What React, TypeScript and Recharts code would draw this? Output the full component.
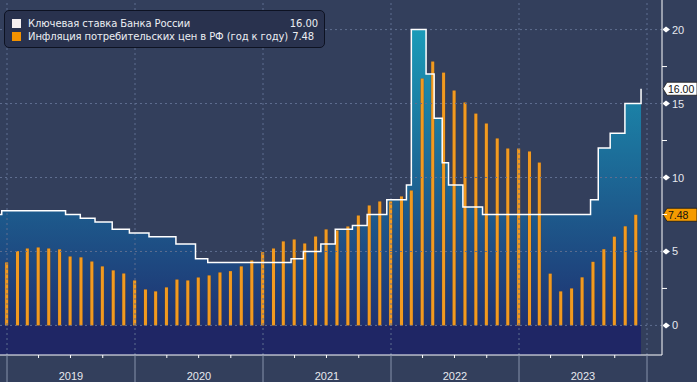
import {
  ComposedChart,
  Area,
  Line,
  Bar,
  XAxis,
  YAxis,
  ReferenceLine,
  ReferenceDot,
} from 'recharts'

// key rate: change dates and the level set on each
const rateDates = [
  '2018-12-12', '2018-12-17', '2019-06-17', '2019-07-29', '2019-09-09',
  '2019-10-28', '2019-12-16', '2020-02-10', '2020-04-27', '2020-06-22',
  '2020-07-27', '2021-03-22', '2021-04-26', '2021-06-15', '2021-07-26',
  '2021-09-13', '2021-10-25', '2021-12-20', '2022-02-14', '2022-02-28',
  '2022-04-11', '2022-05-04', '2022-05-27', '2022-06-14', '2022-07-25',
  '2022-09-19', '2023-07-24', '2023-08-15', '2023-09-18', '2023-10-30',
  '2023-12-15',
]
const rateValues = [
  7.5, 7.75, 7.5, 7.25, 7.0,
  6.5, 6.25, 6.0, 5.5, 4.5,
  4.25, 4.5, 5.0, 5.5, 6.5,
  6.75, 7.5, 8.5, 9.5, 20,
  17, 14, 11, 9.5, 8,
  7.5, 8.5, 12, 13, 15,
  16,
]

// CPI y/y, monthly
const cpiMonths = [
  '2018-12',
  '2019-01', '2019-02', '2019-03', '2019-04', '2019-05', '2019-06', '2019-07', '2019-08', '2019-09', '2019-10', '2019-11', '2019-12',
  '2020-01', '2020-02', '2020-03', '2020-04', '2020-05', '2020-06', '2020-07', '2020-08', '2020-09', '2020-10', '2020-11', '2020-12',
  '2021-01', '2021-02', '2021-03', '2021-04', '2021-05', '2021-06', '2021-07', '2021-08', '2021-09', '2021-10', '2021-11', '2021-12',
  '2022-01', '2022-02', '2022-03', '2022-04', '2022-05', '2022-06', '2022-07', '2022-08', '2022-09', '2022-10', '2022-11', '2022-12',
  '2023-01', '2023-02', '2023-03', '2023-04', '2023-05', '2023-06', '2023-07', '2023-08', '2023-09', '2023-10', '2023-11',
]
const cpiValues = [
  4.26,
  5.02, 5.2, 5.27, 5.2, 5.14, 4.66, 4.6, 4.32, 3.99, 3.72, 3.51, 3.04,
  2.43, 2.3, 2.57, 3.1, 3.04, 3.24, 3.38, 3.58, 3.67, 3.99, 4.39, 4.95,
  5.2, 5.68, 5.81, 5.54, 6.01, 6.49, 6.42, 6.69, 7.43, 8.11, 8.38, 8.38,
  8.72, 9.12, 16.69, 17.84, 17.09, 15.88, 15.07, 14.32, 13.65, 12.64, 11.96, 11.96,
  11.76, 11.01, 3.5, 2.3, 2.5, 3.25, 4.3, 5.15, 6.0, 6.7, 7.48,
]

const years = [2019, 2020, 2021, 2022, 2023]
const yTicks = [0, 2.5, 5, 7.5, 10, 12.5, 15, 17.5, 20]
const gridValues = [0, 5, 10, 15, 20]
const seriesNames = [
  'Ключевая ставка Банка России',
  'Инфляция потребительских цен в РФ (год к году)',
]

const FONT = '"Liberation Sans", Arial, sans-serif'
const LEGEND_FONT = '"DejaVu Sans", sans-serif'
const BG = '#333f5c'
const ORANGE = '#f29a1f'
const GRID = '#5f6e90'

const toYear = (y: number, m: number, d: number) =>
  y + (Date.UTC(y, m - 1, d) - Date.UTC(y, 0, 1)) / (Date.UTC(y + 1, 0, 1) - Date.UTC(y, 0, 1))
const dayPos = (iso: string) => {
  const [y, m, d] = iso.split('-').map(Number)
  return toYear(y, m, d)
}
const monthEnd = (ym: string) => {
  const [y, m] = ym.split('-').map(Number)
  return toYear(y, m, new Date(Date.UTC(y, m, 0)).getUTCDate())
}

// merge both series on one time axis (decimal years)
const rows = new Map<number, { t: number; rate: number | null; cpi: number | null }>()
rateDates.forEach((d, i) => {
  const t = dayPos(d)
  rows.set(t, { t, rate: rateValues[i], cpi: null })
})
cpiMonths.forEach((m, i) => {
  const t = monthEnd(m)
  const r = rows.get(t)
  if (r) r.cpi = cpiValues[i]
  else rows.set(t, { t, rate: null, cpi: cpiValues[i] })
})
const data = [...rows.values()].sort((a, b) => a.t - b.t)

const yearStarts = [...years, years[years.length - 1] + 1]
const quarterTicks = years.flatMap((y) => [toYear(y, 4, 1), toYear(y, 7, 1), toYear(y, 10, 1)])
const labelTicks = years.map((y) => y + 0.5)
const xTicks = [...yearStarts, ...quarterTicks, ...labelTicks].sort((a, b) => a - b)

const X0 = 2019 - 7 / 128
const X1 = 2024 + 15 / 128

const lastRate = rateValues[rateValues.length - 1]
const lastCpi = cpiValues[cpiValues.length - 1]

function XTick(props: any) {
  const { x, y, payload } = props
  const v = payload.value
  if (yearStarts.includes(v)) {
    return <line x1={x} x2={x} y1={y} y2={y + 27} stroke="#8793ab" />
  }
  if (labelTicks.includes(v)) {
    return (
      <text x={x} y={y + 25} textAnchor="middle" fill="#e6e8ee" fontSize={11} fontFamily={FONT}>
        {Math.floor(v)}
      </text>
    )
  }
  return <line x1={x} x2={x} y1={y} y2={y + 3} stroke="#ffffff" />
}

function YTick(props: any) {
  const { x, y, payload } = props
  const v = payload.value
  if (v % 5 !== 0) return <line x1={x} x2={x + 5} y1={y} y2={y} stroke="#ffffff" />
  return (
    <g>
      <path d={`M${x + 1},${y - 0.5} L${x + 4},${y - 3} L${x + 8},${y} L${x + 4},${y + 3} L${x + 1},${y + 0.5} Z`} fill="#ffffff" />
      <text x={x + 10} y={y + 4} fill="#e6e8ee" fontSize={11} fontFamily={FONT}>
        {v}
      </text>
    </g>
  )
}

function Badge({ cx, cy, text, fill }: { cx: number; cy: number; text: string; fill: string }) {
  const x0 = cx + 1
  return (
    <g>
      <path
        d={`M${x0},${cy} L${x0 + 4},${cy - 6.5} H697 V${cy + 6.5} H${x0 + 4} Z`}
        fill={fill}
        stroke="#1a1a1a"
        strokeWidth={0.8}
      />
      <text x={x0 + 5} y={cy + 4} fill="#111" fontSize={10.5} fontFamily={FONT}>
        {text}
      </text>
    </g>
  )
}

function CpiBar(props: any) {
  const { x, y, width, height, payload } = props
  if (payload?.cpi == null || !isFinite(height)) return <g />
  return (
    <g>
      <rect x={x + width / 2 - 2} y={y} width={4} height={height} fill="#5a4030" opacity={0.55} />
      <rect x={x + width / 2 - 1.5} y={y} width={3} height={height} fill={ORANGE} />
    </g>
  )
}

export default function App() {
  return (
    <div style={{ position: 'absolute', left: 0, top: 0, width: 697, height: 382, background: BG }}>
      <ComposedChart width={697} height={382} data={data} margin={{ top: 0, right: 0, bottom: 0, left: 0 }}>
        <defs>
          <linearGradient id="rateFill" x1="0" y1="0" x2="0" y2="1">
            <stop offset="0%" stopColor="#1a9bb8" />
            <stop offset="90.9%" stopColor="#1f3271" />
            <stop offset="90.9%" stopColor="#1f2665" />
            <stop offset="100%" stopColor="#1f2665" />
          </linearGradient>
        </defs>
        <XAxis
          dataKey="t"
          type="number"
          domain={[X0, X1]}
          allowDataOverflow
          ticks={xTicks}
          interval={0}
          height={27}
          tickLine={false}
          tickSize={0}
          tickMargin={0}
          axisLine={{ stroke: '#ffffff' }}
          tick={<XTick />}
        />
        <YAxis
          orientation="right"
          width={35}
          domain={[-2, 22]}
          allowDataOverflow
          ticks={yTicks}
          interval={0}
          tickLine={false}
          tickSize={0}
          tickMargin={0}
          axisLine={{ stroke: '#ffffff' }}
          tick={<YTick />}
        />
        <Area
          dataKey="rate"
          type="stepAfter"
          connectNulls
          baseValue="dataMin"
          stroke="none"
          fill="url(#rateFill)"
          fillOpacity={1}
          dot={false}
          activeDot={false}
          isAnimationActive={false}
        />
        {gridValues.map((v) => (
          <ReferenceLine key={'h' + v} y={v} stroke={GRID} strokeDasharray="2 3" />
        ))}
        {yearStarts.map((v) => (
          <ReferenceLine key={'v' + v} x={v} stroke={GRID} strokeDasharray="2 3" />
        ))}
        <Line
          dataKey="rate"
          type="stepAfter"
          connectNulls
          stroke="#ffffff"
          strokeWidth={1.5}
          dot={false}
          activeDot={false}
          isAnimationActive={false}
        />
        <Bar dataKey="cpi" barSize={3} shape={<CpiBar />} isAnimationActive={false} />
        <ReferenceDot
          x={X1}
          y={lastRate}
          ifOverflow="visible"
          shape={(p: any) => <Badge cx={p.cx} cy={p.cy} text={lastRate.toFixed(2)} fill="#ffffff" />}
        />
        <ReferenceDot
          x={X1}
          y={lastCpi}
          ifOverflow="visible"
          shape={(p: any) => <Badge cx={p.cx} cy={p.cy} text={lastCpi.toFixed(2)} fill="#f59b00" />}
        />
      </ComposedChart>
      <div
        style={{
          position: 'absolute',
          left: 4,
          top: 10,
          width: 319,
          height: 36,
          background: '#29324e',
          border: '1px solid #0d1222',
          borderRadius: 5,
          fontFamily: LEGEND_FONT,
          fontSize: 10,
          letterSpacing: -0.1,
          color: '#eceef2',
        }}
      >
        {seriesNames.map((name, i) => (
          <div key={name} style={{ position: 'absolute', left: 7, right: 6, top: 6 + i * 13, height: 13, display: 'flex', alignItems: 'center' }}>
            <span style={{ width: 9, height: 9, background: i === 0 ? '#f6f1f1' : '#f39200', marginRight: 7, flex: 'none' }} />
            <span style={{ whiteSpace: 'nowrap' }}>{name}</span>
            {i === 0 ? (
              <span style={{ marginLeft: 'auto' }}>{lastRate.toFixed(2)}</span>
            ) : (
              <span style={{ marginLeft: 4 }}>{lastCpi.toFixed(2)}</span>
            )}
          </div>
        ))}
      </div>
    </div>
  )
}
